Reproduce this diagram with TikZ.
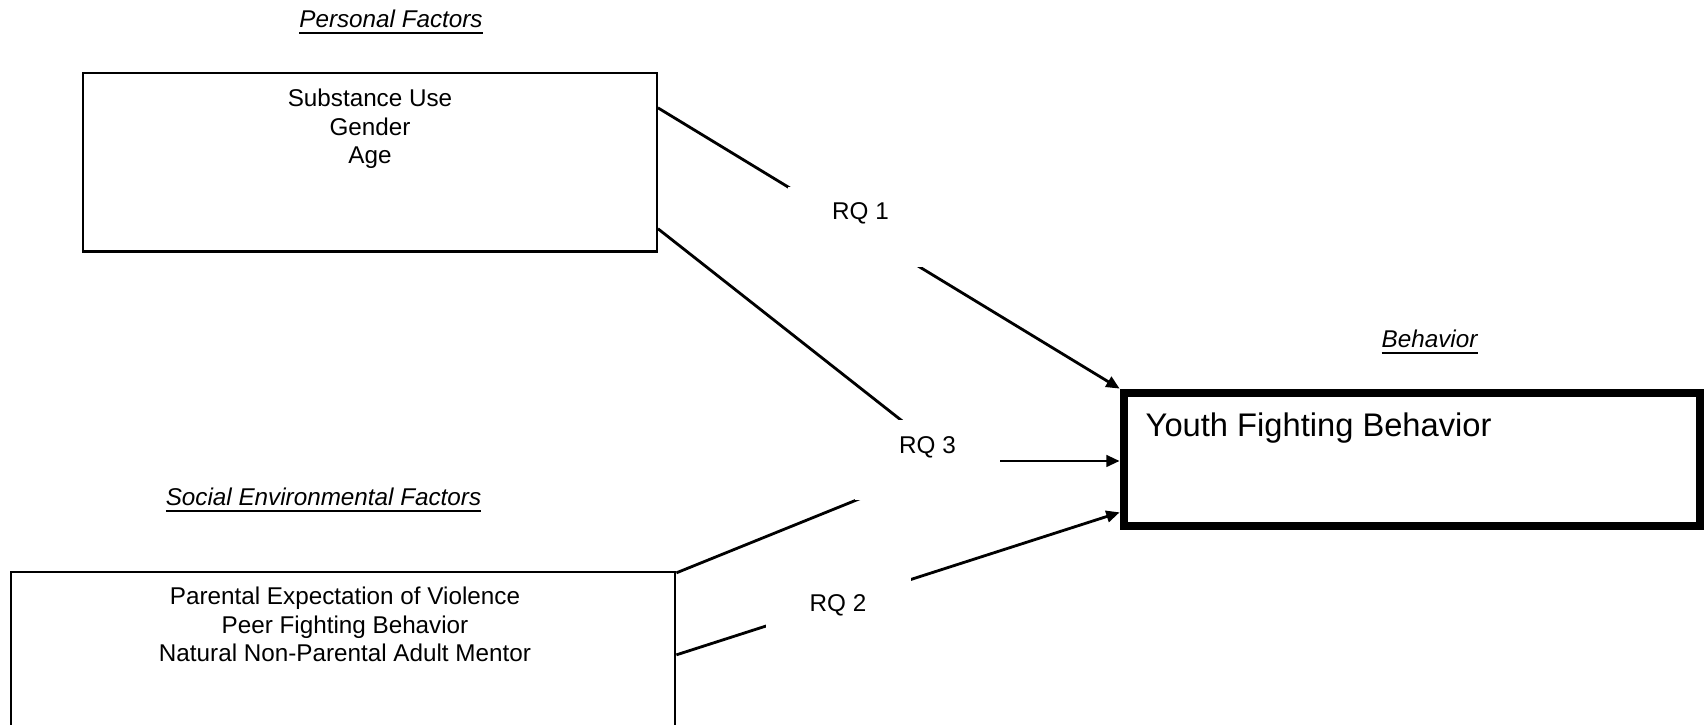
\documentclass[tikz,border=0pt]{standalone}
\usepackage{fontspec}
\setmainfont{Liberation Sans}
\usepackage{tikz}
\usetikzlibrary{positioning, arrows.meta}
\newcommand{\factorhead}[1]{\underline{\textit{#1}}}
\newcommand{\smallsz}{\fontsize{6.9}{8.2}\selectfont}

\begin{document}
\begin{tikzpicture}[
    box/.style={draw=black, line width=0.65pt, inner sep=0pt},
    listtext/.style={font=\smallsz, align=center, inner sep=0pt, anchor=north},
    headtext/.style={font=\smallsz, inner sep=0pt, anchor=base},
    rqlabel/.style={fill=white, inner sep=0pt, minimum width=1.45cm,
                    text height=0.33cm, text depth=0.47cm, font=\smallsz},
    link/.style={line width=0.8pt},
    arr/.style={link, -{Triangle[length=3.8pt, width=3.3pt]}}
  ]
  \useasboundingbox (0,0) rectangle (17.08,7.25);

  % Personal factors (top left)
  \node[headtext] (pershead) at (3.91, 6.97) {\factorhead{Personal Factors}};
  \node[box, minimum width=5.74cm, minimum height=1.786cm] (pers) at (3.698, 5.627) {};
  \node[listtext] (perslist) at (3.70, 6.37) {Substance Use\\Gender\\Age};

  % Social environmental factors (bottom left, runs off the page)
  \node[headtext] (sochead) at (3.235, 2.19) {\factorhead{Social Environmental Factors}};
  \node[box, minimum width=6.645cm, minimum height=1.7cm] (soc) at (3.43, 0.68) {};
  \node[listtext] (soclist) at (3.45, 1.39)
    {Parental Expectation of Violence\\Peer Fighting Behavior\\Natural Non-Parental Adult Mentor};

  % Behavior box (right)
  \node[headtext] (behhead) at (14.30, 3.77) {\factorhead{Behavior}};
  \node[draw=black, line width=2.5pt, inner sep=0pt,
        minimum width=5.76cm, minimum height=1.33cm] (youth) at (14.12, 2.655) {};
  \node[font=\fontsize{9.3}{11}\selectfont, inner sep=0pt, anchor=base west]
    (youthtext) at (11.45, 2.88) {Youth Fighting Behavior};

  % Connectors
  \coordinate (meet) at (9.53, 2.64);
  \draw[arr] ([yshift=-0.36cm]pers.north east) -- (youth.north west);
  \draw[link] ([yshift=0.24cm]pers.south east) -- (meet);
  \draw[link] ([yshift=-0.02cm]soc.north east) -- (meet);
  \draw[arr] (meet) -- (meet -| youth.west);
  \draw[arr] ([yshift=-0.84cm]soc.north east) -- ([yshift=0.18cm]youth.south west);

  % RQ labels (white boxes over the lines)
  \node[rqlabel] (rq1) at (8.605, 4.98) {RQ 1};
  \node[rqlabel] (rq3) at (9.275, 2.645) {RQ 3};
  \node[rqlabel] (rq2) at (8.38, 1.065) {RQ 2};
\end{tikzpicture}
\end{document}
